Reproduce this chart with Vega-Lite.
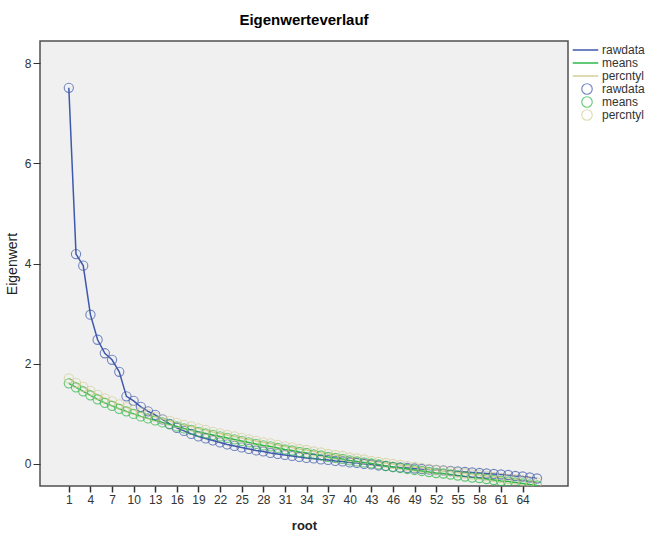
{
  "$schema": "https://vega.github.io/schema/vega-lite/v6.json",
  "width": 528,
  "height": 445,
  "autosize": {"type": "none"},
  "padding": {"left": 40, "top": 41, "right": 84, "bottom": 50},
  "background": "white",
  "title": {"text": "Eigenwerteverlauf", "font": "Liberation Sans", "fontSize": 15, "fontWeight": "bold", "color": "#000000", "anchor": "middle", "offset": 13},
  "config": {
    "view": {"fill": "#F0F0F0", "stroke": "#505050", "strokeWidth": 1.5},
    "axis": {"grid": false, "labelFont": "Liberation Sans", "titleFont": "Liberation Sans", "labelColor": "#333333", "titleColor": "#222222", "tickColor": "#333333", "domainColor": "#505050"},
    "legend": {"labelFont": "Liberation Sans", "labelFontSize": 12, "labelColor": "#333333"}
  },
  "data": {"values": [
    {"root": 1, "rawdata": 7.51, "means": 1.61, "percntyl": 1.71},
    {"root": 2, "rawdata": 4.19, "means": 1.53, "percntyl": 1.62},
    {"root": 3, "rawdata": 3.96, "means": 1.45, "percntyl": 1.54},
    {"root": 4, "rawdata": 2.98, "means": 1.37, "percntyl": 1.46},
    {"root": 5, "rawdata": 2.48, "means": 1.29, "percntyl": 1.38},
    {"root": 6, "rawdata": 2.21, "means": 1.22, "percntyl": 1.31},
    {"root": 7, "rawdata": 2.08, "means": 1.16, "percntyl": 1.25},
    {"root": 8, "rawdata": 1.84, "means": 1.10, "percntyl": 1.19},
    {"root": 9, "rawdata": 1.35, "means": 1.05, "percntyl": 1.13},
    {"root": 10, "rawdata": 1.26, "means": 1.00, "percntyl": 1.08},
    {"root": 11, "rawdata": 1.14, "means": 0.95, "percntyl": 1.03},
    {"root": 12, "rawdata": 1.05, "means": 0.91, "percntyl": 0.99},
    {"root": 13, "rawdata": 0.98, "means": 0.87, "percntyl": 0.94},
    {"root": 14, "rawdata": 0.89, "means": 0.83, "percntyl": 0.90},
    {"root": 15, "rawdata": 0.80, "means": 0.79, "percntyl": 0.86},
    {"root": 16, "rawdata": 0.72, "means": 0.75, "percntyl": 0.82},
    {"root": 17, "rawdata": 0.66, "means": 0.71, "percntyl": 0.78},
    {"root": 18, "rawdata": 0.60, "means": 0.68, "percntyl": 0.75},
    {"root": 19, "rawdata": 0.55, "means": 0.64, "percntyl": 0.71},
    {"root": 20, "rawdata": 0.51, "means": 0.61, "percntyl": 0.68},
    {"root": 21, "rawdata": 0.47, "means": 0.58, "percntyl": 0.64},
    {"root": 22, "rawdata": 0.43, "means": 0.55, "percntyl": 0.61},
    {"root": 23, "rawdata": 0.39, "means": 0.52, "percntyl": 0.58},
    {"root": 24, "rawdata": 0.36, "means": 0.49, "percntyl": 0.55},
    {"root": 25, "rawdata": 0.33, "means": 0.46, "percntyl": 0.52},
    {"root": 26, "rawdata": 0.30, "means": 0.43, "percntyl": 0.49},
    {"root": 27, "rawdata": 0.27, "means": 0.40, "percntyl": 0.46},
    {"root": 28, "rawdata": 0.25, "means": 0.37, "percntyl": 0.43},
    {"root": 29, "rawdata": 0.22, "means": 0.35, "percntyl": 0.41},
    {"root": 30, "rawdata": 0.20, "means": 0.32, "percntyl": 0.38},
    {"root": 31, "rawdata": 0.18, "means": 0.29, "percntyl": 0.35},
    {"root": 32, "rawdata": 0.16, "means": 0.27, "percntyl": 0.33},
    {"root": 33, "rawdata": 0.14, "means": 0.24, "percntyl": 0.30},
    {"root": 34, "rawdata": 0.12, "means": 0.22, "percntyl": 0.28},
    {"root": 35, "rawdata": 0.11, "means": 0.19, "percntyl": 0.25},
    {"root": 36, "rawdata": 0.09, "means": 0.17, "percntyl": 0.23},
    {"root": 37, "rawdata": 0.08, "means": 0.14, "percntyl": 0.20},
    {"root": 38, "rawdata": 0.06, "means": 0.12, "percntyl": 0.18},
    {"root": 39, "rawdata": 0.05, "means": 0.10, "percntyl": 0.16},
    {"root": 40, "rawdata": 0.03, "means": 0.07, "percntyl": 0.13},
    {"root": 41, "rawdata": 0.02, "means": 0.05, "percntyl": 0.11},
    {"root": 42, "rawdata": 0.00, "means": 0.03, "percntyl": 0.09},
    {"root": 43, "rawdata": -0.01, "means": 0.01, "percntyl": 0.06},
    {"root": 44, "rawdata": -0.03, "means": -0.01, "percntyl": 0.04},
    {"root": 45, "rawdata": -0.04, "means": -0.04, "percntyl": 0.02},
    {"root": 46, "rawdata": -0.06, "means": -0.06, "percntyl": 0.00},
    {"root": 47, "rawdata": -0.07, "means": -0.08, "percntyl": -0.02},
    {"root": 48, "rawdata": -0.08, "means": -0.10, "percntyl": -0.04},
    {"root": 49, "rawdata": -0.09, "means": -0.12, "percntyl": -0.06},
    {"root": 50, "rawdata": -0.10, "means": -0.14, "percntyl": -0.08},
    {"root": 51, "rawdata": -0.11, "means": -0.16, "percntyl": -0.10},
    {"root": 52, "rawdata": -0.12, "means": -0.18, "percntyl": -0.12},
    {"root": 53, "rawdata": -0.13, "means": -0.19, "percntyl": -0.13},
    {"root": 54, "rawdata": -0.14, "means": -0.21, "percntyl": -0.15},
    {"root": 55, "rawdata": -0.15, "means": -0.23, "percntyl": -0.17},
    {"root": 56, "rawdata": -0.16, "means": -0.25, "percntyl": -0.19},
    {"root": 57, "rawdata": -0.17, "means": -0.27, "percntyl": -0.21},
    {"root": 58, "rawdata": -0.18, "means": -0.28, "percntyl": -0.22},
    {"root": 59, "rawdata": -0.19, "means": -0.30, "percntyl": -0.24},
    {"root": 60, "rawdata": -0.20, "means": -0.32, "percntyl": -0.26},
    {"root": 61, "rawdata": -0.21, "means": -0.34, "percntyl": -0.28},
    {"root": 62, "rawdata": -0.22, "means": -0.35, "percntyl": -0.30},
    {"root": 63, "rawdata": -0.24, "means": -0.37, "percntyl": -0.31},
    {"root": 64, "rawdata": -0.25, "means": -0.39, "percntyl": -0.33},
    {"root": 65, "rawdata": -0.27, "means": -0.41, "percntyl": -0.35},
    {"root": 66, "rawdata": -0.29, "means": -0.43, "percntyl": -0.37}
  ]},
  "transform": [{"fold": ["rawdata", "means", "percntyl"], "as": ["series", "value"]}],
  "encoding": {
    "x": {"field": "root", "type": "quantitative", "scale": {"domain": [-3, 70.3], "nice": false, "zero": false},
      "axis": {"values": [1,4,7,10,13,16,19,22,25,28,31,34,37,40,43,46,49,52,55,58,61,64], "title": "root", "titleFontSize": 13, "titleFontWeight": "bold", "titlePadding": 14, "labelFontSize": 12, "tickSize": 6, "tickWidth": 1.5, "labelPadding": 2, "domain": false}},
    "y": {"field": "value", "type": "quantitative", "scale": {"domain": [-0.44, 8.445], "nice": false, "zero": false},
      "axis": {"values": [0,2,4,6,8], "title": "Eigenwert", "titleFontSize": 14, "titleFontWeight": "normal", "titlePadding": 5, "labelFontSize": 12, "tickSize": 7, "tickWidth": 1, "labelPadding": 2, "domain": false}}
  },
  "layer": [
    {
      "mark": {"type": "line", "strokeWidth": 1.5, "clip": true},
      "encoding": {
        "color": {"field": "series", "type": "nominal", "sort": ["rawdata", "means", "percntyl"],
          "scale": {"domain": ["rawdata", "means", "percntyl"], "range": ["#3E58AC", "#2EB848", "#D3CE97"]},
          "legend": {"title": null, "orient": "none", "legendX": 532, "legendY": 3, "symbolType": "stroke", "symbolSize": 650, "symbolStrokeWidth": 1.5, "clipHeight": 12, "rowPadding": 1, "labelOffset": 3}}
      }
    },
    {
      "mark": {"type": "point", "filled": false, "size": 85, "strokeWidth": 1.1, "clip": true},
      "encoding": {
        "color": {"field": "series", "type": "nominal", "sort": ["rawdata", "means", "percntyl"],
          "scale": {"domain": ["rawdata", "means", "percntyl"], "range": ["#3E58AC", "#2EB848", "#D3CE97"]},
          "legend": {"title": null, "orient": "none", "legendX": 541, "legendY": 42, "symbolType": "circle", "symbolSize": 110, "symbolStrokeWidth": 1.2, "symbolFillColor": "transparent", "clipHeight": 12, "rowPadding": 1, "labelOffset": 9}}
      }
    }
  ],
  "resolve": {"scale": {"color": "independent"}}
}
